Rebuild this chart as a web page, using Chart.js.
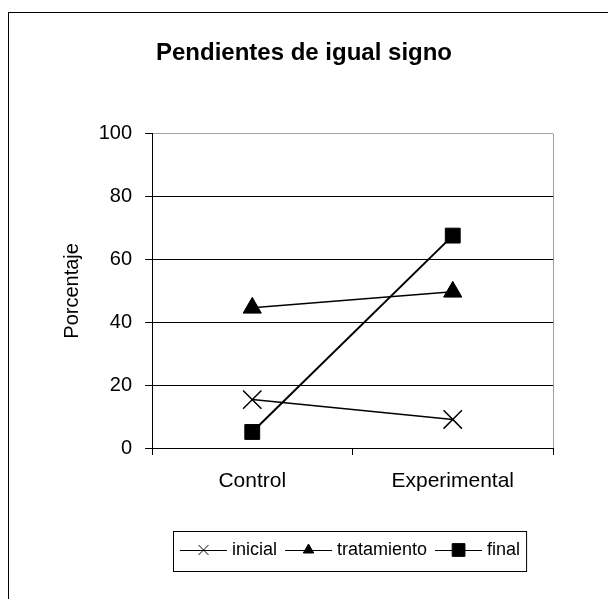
<!DOCTYPE html>
<html lang="es">
<head>
  <meta charset="UTF-8">
  <title>Pendientes de igual signo</title>
  <script src="https://cdn.jsdelivr.net/npm/chart.js"></script>
  <style>
    body {
      margin: 0;
      background: #fff;
    }
    .wrap {
      width: 608px;
      height: 599px;
      position: relative;
    }
  </style>
</head>
<body>
  <div class="wrap">
    <canvas id="chart"></canvas>
  </div>

  <script>
    // Data
    const categories = ['Control', 'Experimental'];
    const inicial = [15.4, 9.1];
    const tratamiento = [44.6, 49.7];
    const final = [5.1, 67.6];
    const yTicks = [0, 20, 40, 60, 80, 100];

    const FONT = "'Liberation Sans', Arial, sans-serif";

    // Outer frame, plot border, title centring and the boxed legend (line - marker - line style)
    const framePlugin = {
      id: 'frame',
      afterLayout(chart) {
        // the title is centred on the whole picture, not on the plot
        chart.titleBlock.left = 0;
        chart.titleBlock.right = chart.width;
      },
      beforeDatasetsDraw(chart) {
        // grey right edge of the plot area
        const a = chart.chartArea;
        const ctx = chart.ctx;
        ctx.save();
        ctx.strokeStyle = '#a0a0a0';
        ctx.lineWidth = 1;
        ctx.beginPath();
        ctx.moveTo(Math.round(a.right) + 0.5, a.top);
        ctx.lineTo(Math.round(a.right) + 0.5, a.bottom);
        ctx.stroke();
        ctx.restore();
      },
      afterDraw(chart) {
        const ctx = chart.ctx;
        ctx.save();
        ctx.strokeStyle = '#000';
        ctx.lineWidth = 1;
        ctx.strokeRect(8.5, 12.5, 800, 800);

        // legend
        ctx.font = '18px ' + FONT;
        ctx.textBaseline = 'middle';
        ctx.textAlign = 'left';
        const y = 550;
        let x = 180;
        const legendSize = { crossRot: 7, triangle: 6, rect: 9 };
        chart.data.datasets.forEach((ds) => {
          ctx.strokeStyle = '#000';
          ctx.lineWidth = 1;
          ctx.beginPath();
          ctx.moveTo(x, y + 0.5);
          ctx.lineTo(x + 47, y + 0.5);
          ctx.stroke();
          Chart.helpers.drawPoint(ctx, {
            pointStyle: ds.pointStyle,
            radius: legendSize[ds.pointStyle],
            borderWidth: 1.5,
            rotation: 0
          }, x + 23.5, y);
          ctx.fillStyle = '#000';
          ctx.fillText(ds.label, x + 52, y);
          x += 52 + ctx.measureText(ds.label).width + 8;
        });
        ctx.lineWidth = 1;
        ctx.strokeStyle = '#000';
        ctx.strokeRect(173.5, 531.5, x - 173 - 2, 40);
        ctx.restore();
      }
    };

    const ctx = document.getElementById('chart').getContext('2d');
    new Chart(ctx, {
      type: 'line',
      data: {
        labels: categories,
        datasets: [
          {
            label: 'inicial',
            data: inicial,
            borderColor: '#000',
            backgroundColor: '#000',
            borderWidth: 1.5,
            pointStyle: 'crossRot',
            pointRadius: 13,
            pointBorderWidth: 1.5,
            tension: 0,
            fill: false
          },
          {
            label: 'tratamiento',
            data: tratamiento,
            borderColor: '#000',
            backgroundColor: '#000',
            borderWidth: 1.5,
            pointStyle: 'triangle',
            pointRadius: 10.5,
            pointBorderWidth: 1,
            tension: 0,
            fill: false
          },
          {
            label: 'final',
            data: final,
            borderColor: '#000',
            backgroundColor: '#000',
            borderWidth: 2,
            pointStyle: 'rect',
            pointRadius: 10.5,
            pointBorderWidth: 1,
            tension: 0,
            fill: false
          }
        ]
      },
      options: {
        responsive: true,
        maintainAspectRatio: false,
        animation: false,
        layout: {
          padding: { top: 0, left: 0, right: 55, bottom: 0 }
        },
        scales: {
          x: {
            type: 'category',
            offset: true,
            afterFit(scale) { scale.height = 151; },
            grid: {
              offset: true,
              drawOnChartArea: false,
              drawTicks: true,
              tickLength: 7,
              color: '#000',
              tickColor: '#000'
            },
            border: { color: '#000', width: 1 },
            ticks: {
              color: '#000',
              padding: 14,
              maxRotation: 0,
              font: { family: FONT, size: 21 }
            }
          },
          y: {
            min: 0,
            max: 100,
            afterFit(scale) { scale.width = 152; },
            afterBuildTicks(scale) {
              scale.ticks = yTicks.map(v => ({ value: v }));
            },
            grid: {
              color: (c) => (c.tick && c.tick.value === 100) ? '#a0a0a0' : '#000',
              tickColor: '#000',
              tickLength: 7,
              lineWidth: 1
            },
            border: { color: '#000', width: 1 },
            ticks: {
              color: '#000',
              padding: 13,
              font: { family: FONT, size: 20 }
            },
            title: {
              display: true,
              text: 'Porcentaje',
              color: '#000',
              padding: { top: 60, bottom: 0 },
              font: { family: FONT, size: 20 }
            }
          }
        },
        plugins: {
          legend: { display: false },
          tooltip: { enabled: false },
          title: {
            display: true,
            text: 'Pendientes de igual signo',
            color: '#000',
            padding: { top: 39, bottom: 66 },
            font: { family: FONT, size: 24, weight: 'bold' }
          }
        }
      },
      plugins: [framePlugin]
    });
  </script>
</body>
</html>
